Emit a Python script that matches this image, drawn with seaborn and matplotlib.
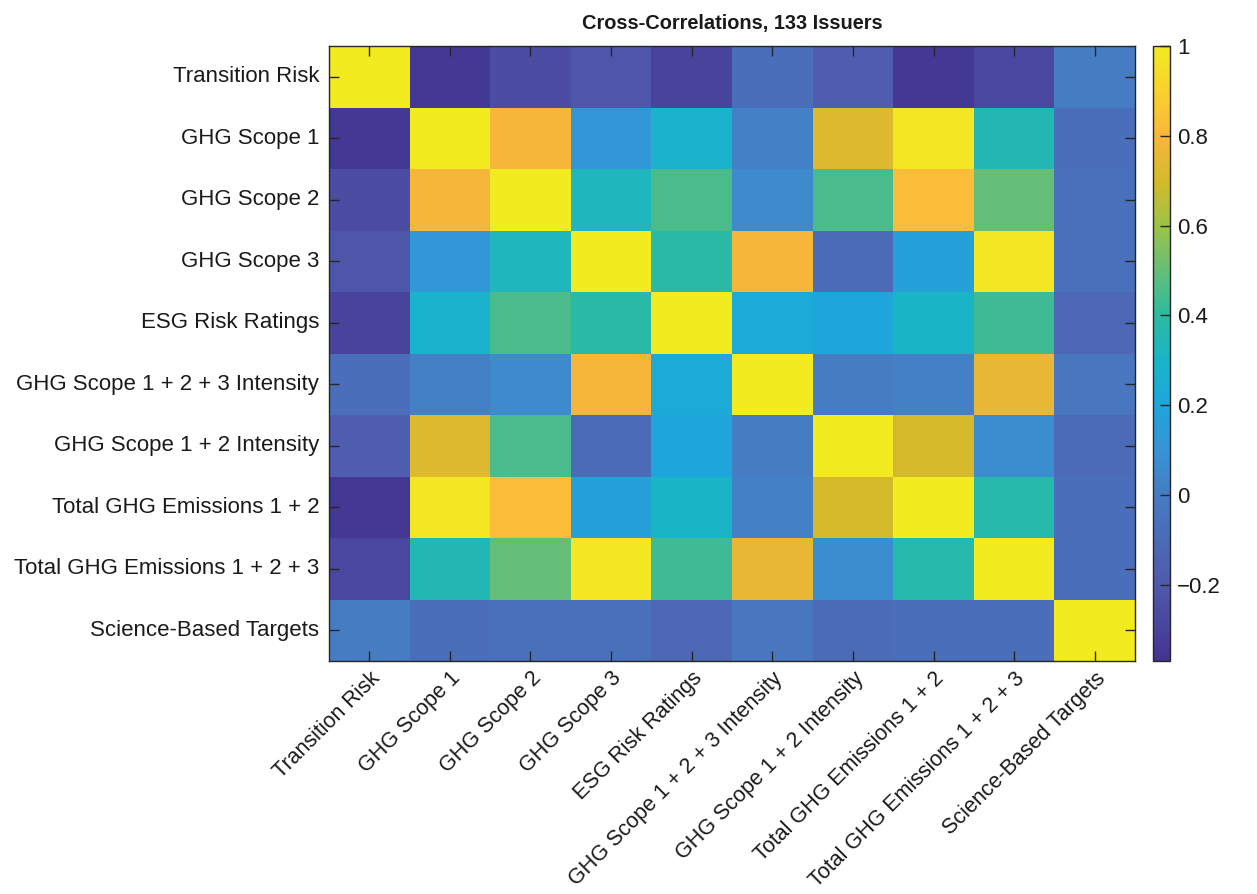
import numpy as np
import pandas as pd
import matplotlib
matplotlib.use("Agg")
import matplotlib.pyplot as plt
from matplotlib.colors import LinearSegmentedColormap
import seaborn as sns

# Variable names (rows and columns of the correlation matrix)
labels = [
    "Transition Risk",
    "GHG Scope 1",
    "GHG Scope 2",
    "GHG Scope 3",
    "ESG Risk Ratings",
    "GHG Scope 1 + 2 + 3 Intensity",
    "GHG Scope 1 + 2 Intensity",
    "Total GHG Emissions 1 + 2",
    "Total GHG Emissions 1 + 2 + 3",
    "Science-Based Targets",
]

# Pairwise correlations, one row per variable
transition_risk = [1.00, -0.35, -0.26, -0.22, -0.30, -0.08, -0.18, -0.35, -0.28, 0.00]
ghg_scope1      = [-0.35, 1.00, 0.79, 0.12, 0.28, 0.02, 0.72, 0.98, 0.35, -0.08]
ghg_scope2      = [-0.26, 0.79, 1.00, 0.33, 0.45, 0.06, 0.45, 0.82, 0.50, -0.07]
ghg_scope3      = [-0.22, 0.12, 0.33, 1.00, 0.38, 0.79, -0.10, 0.17, 0.98, -0.07]
esg_risk        = [-0.30, 0.28, 0.45, 0.38, 1.00, 0.23, 0.20, 0.30, 0.43, -0.12]
intensity_123   = [-0.08, 0.02, 0.06, 0.79, 0.23, 1.00, 0.00, 0.02, 0.75, -0.03]
intensity_12    = [-0.18, 0.72, 0.45, -0.10, 0.20, 0.00, 1.00, 0.70, 0.07, -0.10]
total_12        = [-0.35, 0.98, 0.82, 0.17, 0.30, 0.02, 0.70, 1.00, 0.37, -0.08]
total_123       = [-0.28, 0.35, 0.50, 0.98, 0.43, 0.75, 0.07, 0.37, 1.00, -0.08]
sbt             = [0.00, -0.08, -0.07, -0.07, -0.12, -0.03, -0.10, -0.08, -0.08, 1.00]

title = "Cross-Correlations, 133 Issuers"
vmin, vmax = -0.37, 1.0
cbar_ticks = [-0.2, 0.0, 0.2, 0.4, 0.6, 0.8, 1.0]
cbar_ticklabels = ["\u22120.2", "0", "0.2", "0.4", "0.6", "0.8", "1"]

corr = pd.DataFrame(
    [transition_risk, ghg_scope1, ghg_scope2, ghg_scope3, esg_risk,
     intensity_123, intensity_12, total_12, total_123, sbt],
    index=labels, columns=labels,
)

# Parula-style colour ramp, anchored at data values
anchor_vals = [-0.37, -0.2, 0.0, 0.1, 0.2, 0.3, 0.4, 0.5, 0.6, 0.7, 0.8, 0.9, 1.0]
anchor_cols = [
    (66, 52, 145), (80, 90, 172), (70, 124, 194), (55, 148, 212),
    (30, 166, 220), (25, 181, 200), (45, 186, 160), (100, 190, 120),
    (155, 195, 70), (212, 186, 42), (250, 182, 60), (250, 208, 45),
    (241, 235, 32),
]
pos = [(v - vmin) / (vmax - vmin) for v in anchor_vals]
cmap = LinearSegmentedColormap.from_list(
    "parula_like", list(zip(pos, [tuple(c / 255 for c in col) for col in anchor_cols])), N=256
)

sns.set_theme(style="white")
plt.rcParams["font.family"] = ["Liberation Sans", "DejaVu Sans"]
edge = "#262626"
text_col = "#1a1a1a"

fig = plt.figure(figsize=(12.57, 8.94), dpi=100)
ax = fig.add_axes([0.2617, 0.2606, 0.6413, 0.6879])
cax = fig.add_axes([0.9173, 0.2606, 0.0135, 0.6879])

sns.heatmap(corr, ax=ax, cbar_ax=cax, cmap=cmap, vmin=vmin, vmax=vmax,
            cbar_kws={"ticks": cbar_ticks})

# Box and inward ticks drawn over the cells
ax.set_axisbelow(False)
cax.set_axisbelow(False)
for s in ax.spines.values():
    s.set_visible(True)
    s.set_color(edge)
    s.set_linewidth(1.0)
    s.set_zorder(5)

ax.tick_params(axis="both", direction="in", length=7, width=1.0, color=edge,
               bottom=True, left=True, top=True, right=True,
               labelcolor=text_col)
ax.tick_params(axis="y", labelsize=16, pad=7)
ax.tick_params(axis="x", labelsize=15.5, pad=5)
ax.set_xticklabels(labels, rotation=45, ha="right", rotation_mode="anchor")
ax.set_yticklabels(labels, rotation=0)
ax.set_xlabel("")
ax.set_ylabel("")
ax.set_title(title, fontsize=14.4, fontweight="bold", color=text_col, pad=12)

cbar = ax.collections[0].colorbar
cbar.outline.set_edgecolor(edge)
cbar.outline.set_linewidth(1.0)
cax.tick_params(direction="in", length=7, width=1.0, color=edge, right=True,
                labelsize=16, labelcolor=text_col, pad=5)
cbar.set_ticklabels(cbar_ticklabels)

fig.savefig("out.png", dpi=100)
